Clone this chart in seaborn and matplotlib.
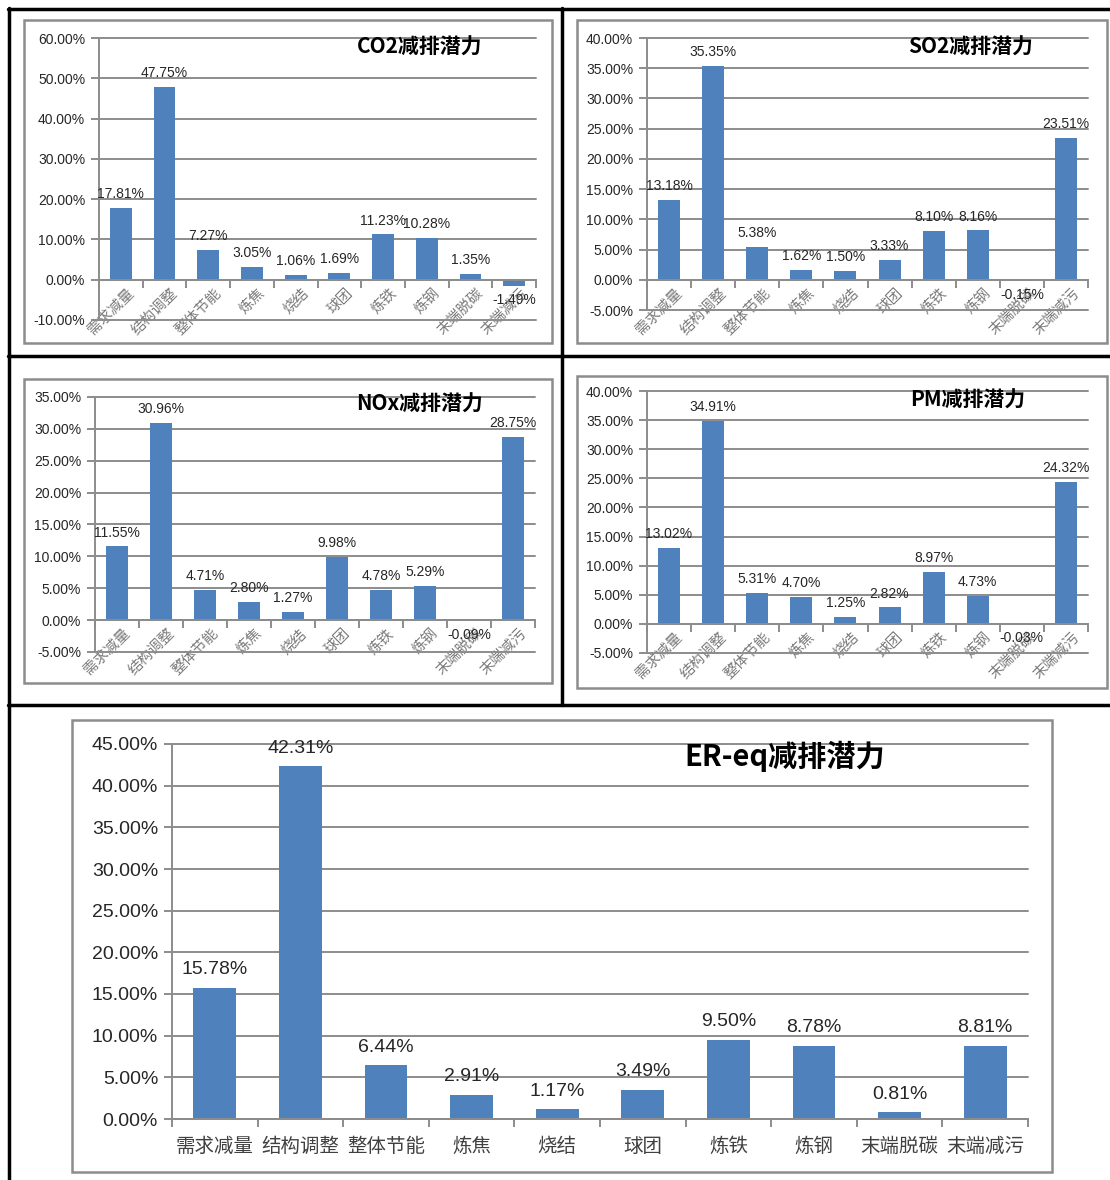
'''
Five bar charts of emission reduction potential by measure
'''

import numpy as np
import matplotlib
matplotlib.use('Agg')
import matplotlib.pyplot as plt
import seaborn as sns
from matplotlib.lines import Line2D
from matplotlib.patches import Rectangle
from matplotlib.transforms import ScaledTranslation

# Categories and values (%)
cats = ['需求减量', '结构调整', '整体节能', '炼焦', '烧结', '球团', '炼铁', '炼钢', '末端脱碳', '末端减污']
co2 = [17.81, 47.75, 7.27, 3.05, 1.06, 1.69, 11.23, 10.28, 1.35, -1.49]
so2 = [13.18, 35.35, 5.38, 1.62, 1.50, 3.33, 8.10, 8.16, -0.15, 23.51]
nox = [11.55, 30.96, 4.71, 2.80, 1.27, 9.98, 4.78, 5.29, -0.09, 28.75]
pm = [13.02, 34.91, 5.31, 4.70, 1.25, 2.82, 8.97, 4.73, -0.03, 24.32]
er_eq = [15.78, 42.31, 6.44, 2.91, 1.17, 3.49, 9.50, 8.78, 0.81, 8.81]

titles = ['CO2减排潜力', 'SO2减排潜力', 'NOx减排潜力', 'PM减排潜力', 'ER-eq减排潜力']

sns.set_theme(style='white')
plt.rcParams['font.family'] = ['Liberation Sans', 'Noto Sans CJK SC']

W, H = 1110, 1180
BLUE = '#4F81BD'
GRID = '#8C8C8C'
CJK = ['Noto Sans CJK SC', 'DejaVu Sans']

fig = plt.figure(figsize=(W / 100, H / 100), dpi=100)


def fx(x):
    return x / W


def fy(y):
    return 1 - y / H


def panel(vals, title, box, frame, title_xy, ylim, step, big=False):
    x0, y0, x1, y1 = box
    ax = fig.add_axes([fx(x0), fy(y1), (x1 - x0) / W, (y1 - y0) / H])

    # Bars
    sns.barplot(x=cats, y=vals, color=BLUE, saturation=1, width=0.5,
                linewidth=0, ax=ax)
    ax.set_xlabel('')
    ax.set_ylabel('')

    # Value labels
    fs = 14 if big else 10
    ax.bar_label(ax.containers[0], labels=[f'{v:.2f}%' for v in vals],
                 padding=7 if big else 5, fontsize=fs, color='#262626')

    # Y axis and grid
    ax.set_ylim(*ylim)
    yt = np.arange(ylim[0], ylim[1] + 0.01, step)
    ax.set_yticks(yt)
    ax.set_yticklabels([f'{t:.2f}%' for t in yt])
    ax.yaxis.grid(True, color=GRID, lw=1.4)
    for gl in ax.get_ygridlines():
        gl.set_clip_on(False)
    ax.set_axisbelow(True)
    ax.tick_params(axis='y', left=True, length=6, width=1.4, color=GRID,
                   pad=4, labelsize=fs, labelcolor='#262626')

    # X axis at zero, tick marks between categories
    ax.set_xlim(-0.5, 9.5)
    ax.set_xticks(range(len(cats)))
    ax.set_xticks(np.arange(-0.5, len(cats), 1), minor=True)
    ax.tick_params(axis='x', which='minor', bottom=True, length=6, width=1.4,
                   color=GRID)
    for side in ['top', 'right']:
        ax.spines[side].set_visible(False)
    for side in ['left', 'bottom']:
        ax.spines[side].set_color(GRID)
        ax.spines[side].set_linewidth(1.4)
    ax.spines['bottom'].set_position(('data', 0))

    if big:
        ax.tick_params(axis='x', which='major', length=0, pad=12)
        ax.set_xticklabels(cats, fontsize=14, color='#404040', family=CJK)
    else:
        ax.tick_params(axis='x', which='major', length=0, pad=8)
        ax.set_xticklabels(cats, fontsize=10.5, color='#7a7a7a', family=CJK,
                           rotation=45, ha='right', va='center',
                           rotation_mode='anchor')
        shift = ScaledTranslation(0.11, 0, fig.dpi_scale_trans)
        for lab in ax.get_xticklabels():
            lab.set_transform(lab.get_transform() + shift)

    # Title inside the plot
    fig.text(fx(title_xy[0]), fy(title_xy[1]), title, ha='center', va='center',
             fontsize=21 if big else 15, fontweight='bold', family=CJK,
             color='#000000')

    # Chart frame
    fx0, fy0, fx1, fy1 = frame
    fig.add_artist(Rectangle((fx(fx0), fy(fy1)), (fx1 - fx0) / W, (fy1 - fy0) / H,
                             transform=fig.transFigure, fill=False,
                             ec=GRID, lw=1.8))
    return ax


panel(co2, titles[0], (99, 38, 536, 320), (24, 20, 552, 343), (420, 47), (-10, 60), 10)
panel(so2, titles[1], (647, 38, 1088, 310), (577, 20, 1107, 343), (971, 47), (-5, 40), 5)
panel(nox, titles[2], (95, 397, 535, 652), (24, 379, 552, 683), (420, 404), (-5, 35), 5)
panel(pm, titles[3], (647, 391, 1088, 653), (577, 376, 1107, 688), (968, 400), (-5, 40), 5)
panel(er_eq, titles[4], (172, 744, 1028, 1119), (72, 720, 1052, 1172), (785, 756), (0, 45), 5, big=True)

# Black table lines
for (a, b, c, d) in [(8, 9, 1110, 9), (9, 8, 9, 1180), (562, 8, 562, 705),
                     (8, 356, 1110, 356), (8, 705, 1110, 705)]:
    fig.add_artist(Line2D([fx(a), fx(c)], [fy(b), fy(d)], color='black',
                          lw=2.5, transform=fig.transFigure))

fig.savefig('out.png', dpi=100, facecolor='white')
